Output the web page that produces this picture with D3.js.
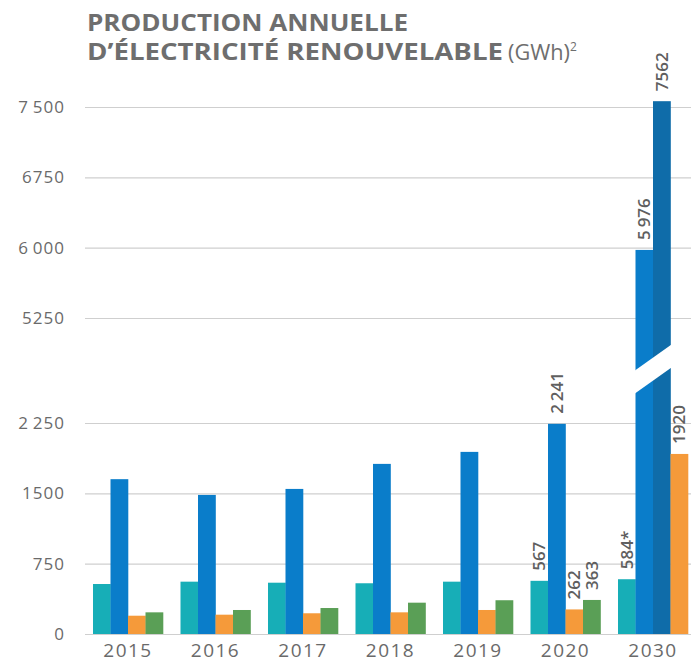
<!DOCTYPE html>
<html lang="fr">
<head>
<meta charset="UTF-8">
<title>Production annuelle d'électricité renouvelable</title>
<script src="https://d3js.org/d3.v7.min.js"></script>
<style>
  body { margin: 0; background: #fff; }
  svg text { font-family: "Open Sans", sans-serif; }
</style>
</head>
<body>
<div id="chart"></div>
<script>
// values (GWh)
const years = ["2015", "2016", "2017", "2018", "2019", "2020", "2030"];
const serieTeal   = [533, 558, 547, 541, 558, 567, 584];
const serieBlue   = [1651, 1483, 1547, 1814, 1942, 2241, 5976];
const serieBlue2  = [null, null, null, null, null, null, 7562];
const serieOrange = [195, 206, 221, 231, 256, 262, 1920];
const serieGreen  = [231, 256, 277, 334, 360, 363, null];

const tickValues = [0, 750, 1500, 2250, 5250, 6000, 6750, 7500];
const tickLabels = ["0", "750", "1500", "2\u2009250", "5250", "6\u2009000", "6750", "7\u2009500"];

// which bars carry a value label
const labels = {
  "2020": {teal: "567", blue: "2\u2009241", orange: "262", green: "363"},
  "2030": {teal: "584*", blue: "5\u2009976", blue2: "7562", orange: "1920"}
};

const colors = {teal: "#17aeb7", blue: "#0a7dca", blue2: "#0f6ca9", orange: "#f59a3a", green: "#5a9f56"};

const W = 691, H = 659;
const svg = d3.select("#chart").append("svg").attr("width", W).attr("height", H);

// broken axis: 2250 -> 5250 squeezed into one and a half tick steps
const y = d3.scaleLinear()
  .domain([0, 2250, 5250, 7500])
  .range([634, 423, 318, 107]);

const x = d3.scaleBand().domain(years).range([93, 688]).paddingInner(0.2).paddingOuter(0);
const xi = d3.scaleBand().domain([0, 1, 2, 3]).range([0, x.bandwidth()]);

// title
const title = svg.append("g").attr("fill", "#6e6e6e");
title.append("text").attr("x", 87).attr("y", 31)
  .attr("font-size", 23).attr("font-weight", 700)
  .attr("textLength", 321).attr("lengthAdjust", "spacingAndGlyphs")
  .text("PRODUCTION ANNUELLE");
const t2 = title.append("text").attr("x", 87).attr("y", 60).attr("font-size", 23);
t2.append("tspan").attr("font-weight", 700)
  .attr("textLength", 416).attr("lengthAdjust", "spacingAndGlyphs")
  .text("D\u2019ÉLECTRICITÉ RENOUVELABLE");
t2.append("tspan").attr("x", 508).attr("font-weight", 400).attr("font-size", 22)
  .attr("textLength", 62).attr("lengthAdjust", "spacingAndGlyphs").text("(GWh)");
t2.append("tspan").attr("font-weight", 400).attr("font-size", 12).attr("dy", -9).text("2");

// grid + y labels
const yAxis = svg.append("g")
  .call(d3.axisLeft(y).tickValues(tickValues).tickSize(0).tickFormat((d, i) => tickLabels[i]))
  .attr("transform", "translate(85,0)");
yAxis.select(".domain").remove();
yAxis.selectAll("text").attr("x", -20).attr("fill", "#6a6a6a")
  .attr("font-size", 17).attr("letter-spacing", 1).attr("font-family", "Open Sans, sans-serif");
yAxis.selectAll(".tick").append("line")
  .attr("x1", 0).attr("x2", W - 85).attr("stroke", "#cfcfcf").attr("stroke-width", 1.2);

// bars
const rows = years.map((yr, i) => {
  const list = [
    {key: "teal", v: serieTeal[i]},
    {key: "blue", v: serieBlue[i]},
    {key: "blue2", v: serieBlue2[i]},
    {key: "orange", v: serieOrange[i]},
    {key: "green", v: serieGreen[i]}
  ].filter(d => d.v != null);
  list.forEach((d, j) => { d.idx = j; d.year = yr; });
  return {year: yr, bars: list};
});

const groups = svg.append("g").selectAll("g").data(rows).join("g")
  .attr("transform", d => `translate(${x(d.year)},0)`);

groups.selectAll("rect").data(d => d.bars).join("rect")
  .attr("x", d => xi(d.idx))
  .attr("width", xi.bandwidth() + 0.3)
  .attr("y", d => y(d.v))
  .attr("height", d => y(0) - y(d.v))
  .attr("fill", d => colors[d.key]);

// slanted white cut on the tall 2030 bars
const cutX0 = x("2030") + xi(1) - 2, cutX1 = x("2030") + xi(2) + xi.bandwidth() + 1;
const midL = y(3380), midR = y(4150);
svg.append("polygon")
  .attr("points", [
    [cutX0, midL - 12], [cutX1, midR - 12], [cutX1, midR + 11], [cutX0, midL + 11]
  ].map(p => p.join(",")).join(" "))
  .attr("fill", "#fff");

// value labels
groups.each(function(r) {
  const lab = labels[r.year];
  if (!lab) return;
  d3.select(this).selectAll("text.val").data(r.bars.filter(d => lab[d.key])).join("text")
    .attr("class", "val")
    .attr("transform", d => `translate(${xi(d.idx) + xi.bandwidth() / 2 + 6},${y(d.v) - 10}) rotate(-90)`)
    .attr("fill", "#5f5f5f").attr("font-size", 17).attr("font-weight", 600)
    .text(d => lab[d.key]);
});

// x labels
svg.append("g").selectAll("text").data(years).join("text")
  .attr("x", d => x(d) + x.bandwidth() / 2)
  .attr("y", 657)
  .attr("text-anchor", "middle")
  .attr("fill", "#6a6a6a").attr("font-size", 19).attr("letter-spacing", 1.5)
  .text(d => d);
</script>
</body>
</html>
